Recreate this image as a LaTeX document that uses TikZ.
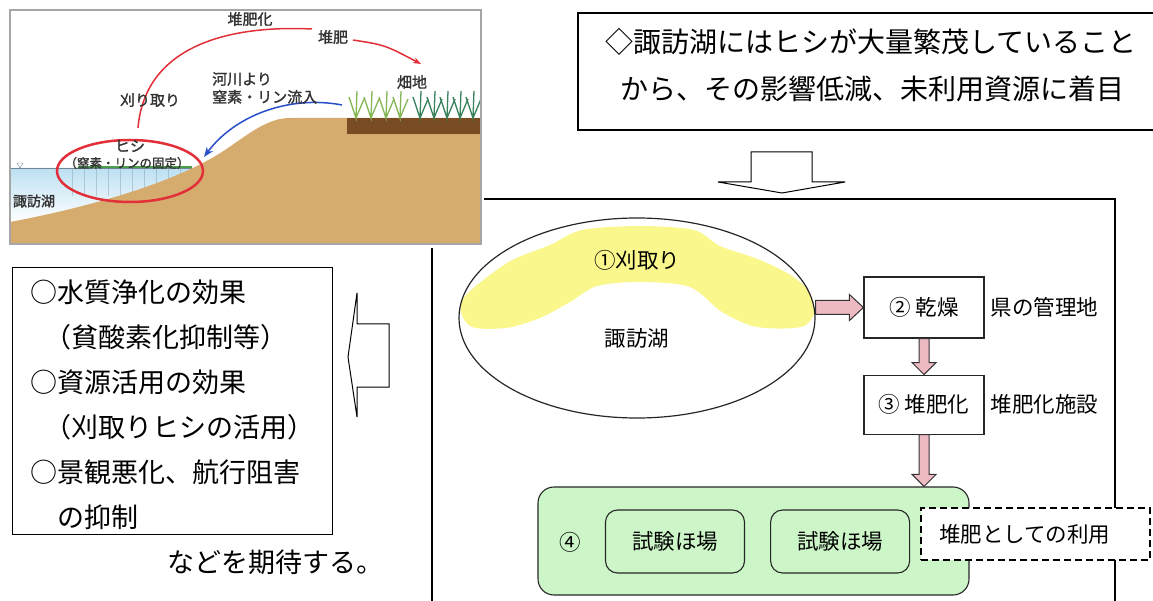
\documentclass[tikz,border=0pt]{standalone}
\usepackage{fontspec}
\setmainfont{Noto Sans CJK JP}
\newfontfamily\sketchfont[AutoFakeBold=1.5]{Noto Sans CJK JP}
\usetikzlibrary{positioning,calc,shapes.geometric,arrows.meta}

\definecolor{weedyellow}{RGB}{250,247,140}
\definecolor{plotgreen}{RGB}{204,245,200}
\definecolor{arrowpink}{RGB}{236,186,192}
\definecolor{soil}{RGB}{214,172,110}
\definecolor{topsoil}{RGB}{122,76,36}
\definecolor{water}{RGB}{188,224,242}
\definecolor{cropred}{RGB}{226,48,58}
\definecolor{riverblue}{RGB}{40,78,200}
\definecolor{leafA}{RGB}{132,182,84}
\definecolor{leafB}{RGB}{58,130,92}

% pink block arrows between boxes
\newcommand{\harrow}[2]{\draw[flow] ($(#1)+(0,7)$) -- ($(#2)+(-14,7)$) -- ($(#2)+(-14,13)$) -- (#2)
  -- ($(#2)+(-14,-13)$) -- ($(#2)+(-14,-7)$) -- ($(#1)+(0,-7)$) -- cycle;}
\newcommand{\varrow}[2]{\draw[flow] ($(#1)+(-5,0)$) -- ($(#2)+(-5,12)$) -- ($(#2)+(-12,12)$) -- (#2)
  -- ($(#2)+(12,12)$) -- ($(#2)+(5,12)$) -- ($(#1)+(5,0)$) -- cycle;}

\begin{document}
\begin{tikzpicture}[x=1pt,y=1pt,every node/.style={inner sep=0pt},
	bodytext/.style={font=\fontsize{27}{30}\selectfont},
	smalltext/.style={font=\fontsize{21.5}{24}\selectfont},
	illtext/.style={font={\sketchfont\bfseries\fontsize{15}{18}\selectfont},text=black!80},
	stepbox/.style={draw=black!85,line width=1.1pt,fill=white,minimum width=120pt,smalltext},
	plotbox/.style={draw=black!85,line width=1.1pt,rounded corners=12pt,minimum width=139pt,
		minimum height=63pt,smalltext},
	flow/.style={draw=black!80,fill=arrowpink,line width=1pt},
	hollow/.style={draw=black,fill=white,line width=1pt},
	frame/.style={draw=black,line width=1.2pt}]
\useasboundingbox (0,0) rectangle (1153,-601);

% sketch of the lake and the field
\fill[white] (10,-10) rectangle (481,-244);
\shade[top color=water,bottom color=white] (10,-168) -- (198,-168)
	.. controls (150,-190) and (80,-212) .. (10,-222) -- cycle;
\foreach \x in {72,84,...,180}
	\draw[water!70!black,opacity=.45] (\x,-168) -- (\x,-196);
\draw[green!45!black!70,line width=1.2pt] (78,-167) -- (192,-167);
\draw[water!60!black] (10,-168) -- (198,-168);
\draw[water!60!black] (17,-163) -- (23,-163) -- (20,-168) -- cycle;
\fill[soil] (10,-222) .. controls (100,-205) and (180,-180) .. (225,-150)
	.. controls (250,-133) and (268,-118) .. (290,-118) -- (481,-118) -- (481,-244) -- (10,-244) -- cycle;
\fill[topsoil] (347,-118) rectangle (481,-134);
\foreach \x/\c in {356/leafA,371/leafA,386/leafA,400/leafA,420/leafB,434/leafB,447/leafB,460/leafB,473/leafB}
	\draw[\c,line width=1.3pt] (\x-7,-97) -- (\x,-118) -- (\x+1,-91) (\x,-118) -- (\x+8,-99);
\draw[gray!70,line width=1.5pt] (10,-10) rectangle (481,-244);
\draw[cropred,line width=2.5pt] (130,-171) ellipse [x radius=73,y radius=31];
\draw[cropred,line width=1.5pt] (138,-128) .. controls (145,-45) and (230,-25) .. (312,-29);
\draw[cropred,line width=1.5pt,-{Stealth[length=8pt]}] (353,-40) .. controls (385,-45) .. (421,-64);
\draw[riverblue,line width=1.5pt,-{Stealth[length=10pt]}] (342,-105)
	.. controls (290,-95) and (235,-115) .. (204,-157);
\node[illtext] (compostA) at (250,-19) {堆肥化};
\node[illtext] (compostB) at (333,-37) {堆肥};
\node[illtext] (harvestA) at (150,-100) {刈り取り};
\node[illtext,align=left,anchor=west] (inflow) at (212,-88) {河川より\\窒素・リン流入};
\node[illtext] (farm) at (412,-82) {畑地};
\node[illtext] (hishi) at (130,-146) {ヒシ};
\node[illtext,font={\sketchfont\bfseries\fontsize{12.5}{14}\selectfont}] (fix) at (127,-163) {（窒素・リンの固定）};
\node[illtext,font={\sketchfont\bfseries\fontsize{14}{16}\selectfont}] (lakename) at (34,-201) {諏訪湖};

% starting point
\draw[frame] (1153,-13) -- (578,-13) -- (578,-130) -- (1153,-130);
\node[bodytext,font=\fontsize{28}{30}\selectfont,anchor=west] (focus1) at (605,-42) {◇諏訪湖にはヒシが大量繁茂していること};
\node[bodytext,font=\fontsize{28}{30}\selectfont,anchor=west] (focus2) at (620,-89) {から、その影響低減、未利用資源に着目};
\draw[hollow] (751,-152) -- (812,-152) -- (812,-182) -- (845,-182) -- (782,-193) -- (718,-182) -- (751,-182) -- cycle;

% expected effects
\node[frame,minimum width=320pt,minimum height=267pt,anchor=north west] (effects) at (12,-267) {};
\foreach \x/\y/\t [count=\i] in {30/292/○水質浄化の効果,44/337/（貧酸素化抑制等）,30/382/○資源活用の効果,
		44/427/（刈取りヒシの活用）,30/472/○景観悪化、航行阻害,57/517/の抑制}
	\node[bodytext,anchor=west] (eff\i) at (\x,-\y) {\t};
\node[bodytext,anchor=west] (expect) at (167,-562) {などを期待する。};
\draw[hollow] (389,-324) -- (389,-387) -- (357,-387) -- (357,-417) -- (348,-357) -- (357,-293) -- (357,-324) -- cycle;

% flow of the water chestnut
\draw[frame] (484,-199) -- (1115,-199) -- (1115,-601);
\draw[frame] (432,-248) -- (432,-601);
\begin{scope}
\clip (637,-318) ellipse [x radius=178,y radius=100];
\fill[weedyellow] plot[smooth cycle] coordinates {(462,-300) (507,-263) (550,-245) (582,-230) (640,-226)
	(694,-230) (720,-246) (760,-260) (795,-278) (816,-302) (804,-326) (757,-327) (722,-312)
	(690,-287) (640,-282) (597,-286) (570,-302) (540,-318) (506,-328) (470,-326)};
\end{scope}
\node[draw=black!85,line width=1.2pt,ellipse,minimum width=356pt,minimum height=200pt] (lake) at (637,-318) {};
\node[smalltext] (cut) at ($(lake.center)+(0,58)$) {①刈取り};
\node[smalltext] (suwa) at ($(lake.center)+(0,-20)$) {諏訪湖};
\node[stepbox,minimum height=61pt] (dry) at (924,-307.5) {② 乾燥};
\node[stepbox,minimum height=59pt,below=36pt of dry] (compost) {③ 堆肥化};
\node[smalltext,right=6pt of dry] (drysite) {県の管理地};
\node[smalltext,right=6pt of compost] (compostsite) {堆肥化施設};
\node[draw=black!85,line width=1.1pt,fill=plotgreen,rounded corners=16pt,minimum width=431pt,
	minimum height=108pt] (field) at (753.5,-541) {};
\node[smalltext] (four) at (570,-542) {④};
\node[plotbox] (plot1) at (675,-541.5) {試験ほ場};
\node[plotbox,right=25pt of plot1] (plot2) {試験ほ場};
\coordinate (lakeout) at (lake.east |- dry.west);
\coordinate (drop) at (compost.south |- field.north);
\harrow{lakeout}{dry.west}
\varrow{dry.south}{compost.north}
\varrow{compost.south}{drop}
\node[smalltext,draw,dashed,dash pattern=on 7pt off 4pt,line width=1.8pt,fill=white,text width=193pt,
	align=left,inner xsep=18pt,minimum height=52pt] (usage) at (1035.5,-534) {堆肥としての利用};
\end{tikzpicture}
\end{document}
